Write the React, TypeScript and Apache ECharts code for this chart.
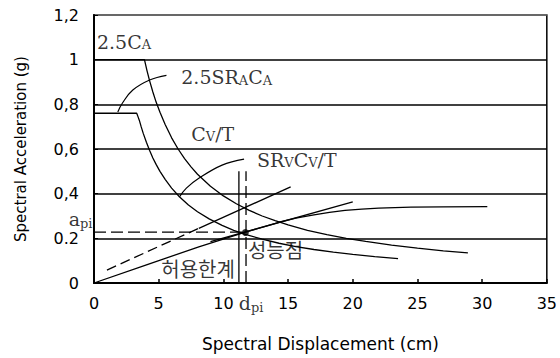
import React, { useEffect, useRef } from 'react';
import * as echarts from 'echarts';

// ---- data ----
const xTicks = [0, 5, 10, 15, 20, 25, 30, 35];
const yTickLabels = ['0', '0.2', '0,4', '0,6', '0,8', '1', '1,2'];

// elastic demand spectrum: 2.5CA plateau then Cv/T
const elasticDemand: [number, number][] = [
  [0, 1.0], [3.9, 1.0], [4.1, 0.95], [4.3, 0.905], [4.55, 0.855], [4.8, 0.81], [5.1, 0.765], [5.5, 0.71],
  [6, 0.65], [6.5, 0.6], [7, 0.557], [7.5, 0.52], [8, 0.487], [9, 0.433], [10, 0.39], [11, 0.355],
  [12, 0.325], [13, 0.3], [14, 0.279], [15, 0.26], [16.5, 0.236], [18, 0.217], [19.5, 0.2], [21, 0.186],
  [23, 0.17], [25, 0.156], [27, 0.144], [28.9, 0.135],
];
// reduced demand spectrum: 2.5SRaCa plateau then SRvCv/T
const reducedDemand: [number, number][] = [
  [0, 0.76], [3.3, 0.76], [3.4, 0.745], [3.5, 0.729], [3.65, 0.699], [3.8, 0.671], [4.05, 0.63], [4.3, 0.593],
  [4.55, 0.56], [4.8, 0.531], [5.1, 0.5], [5.5, 0.464], [6, 0.425], [6.6, 0.386], [7.3, 0.349], [8, 0.319],
  [8.9, 0.287], [9.9, 0.258], [10.8, 0.236], [11.7, 0.218], [13, 0.196], [14.3, 0.178], [15.6, 0.163],
  [17, 0.15], [18.5, 0.138], [20, 0.128], [21.7, 0.118], [23.5, 0.109],
];
// capacity spectrum
const capacity: [number, number][] = [
  [0, 0], [4, 0.08], [8.1, 0.162], [11.7, 0.228], [14.3, 0.272], [15.6, 0.29], [17, 0.305], [18.2, 0.316],
  [19.4, 0.325], [20.7, 0.331], [22, 0.335], [24.5, 0.34], [27, 0.341], [30.4, 0.342],
];
// post-yield straight line
const postYield: [number, number][] = [[9, 0.185], [20, 0.363]];
// initial stiffness line (dashed part, then solid part)
const stiffDashed: [number, number][] = [[1.0, 0.058], [8.1, 0.245]];
const stiffSolid: [number, number][] = [[8.1, 0.245], [15.2, 0.43]];
// leader curves for labels
const leaderSRA: [number, number][] = [[1.84, 0.766], [2.2, 0.806], [3.0, 0.864], [4.3, 0.909], [5.6, 0.93]];
const leaderSRV: [number, number][] = [[6.6, 0.385], [7.14, 0.425], [8.13, 0.47], [9.9, 0.528], [11.6, 0.555]];
// performance point guides
const dpiSolid: [number, number][] = [[11.2, 0], [11.2, 0.5]];
const dpiDashed: [number, number][] = [[11.75, 0], [11.75, 0.5]];
const apiDashed: [number, number][] = [[0, 0.228], [11.75, 0.228]];
const perfPoint: [number, number][] = [[11.7, 0.226]];

// annotations: [x, y] anchor (left-middle of text) and text
const annotationTexts = ['2.5C{s|A}', '2.5SR{s|A}C{s|A}', 'C{s|V}/T', 'SR{s|V}C{s|V}/T', 'a{p|pi}', 'd{p|pi}', '허용한계', '성능점'];
const annotationAnchors: [number, number][] = [
  [0.23, 1.079], [6.75, 0.922], [7.52, 0.667], [12.6, 0.551], [-1.95, 0.285], [11.2, -0.09], [5.2, 0.063], [11.9, 0.152],
];

export default function App() {
  const ref = useRef<HTMLDivElement>(null);
  useEffect(() => {
    const chart = echarts.init(ref.current!, null, { renderer: 'svg' });
    const serif = 'DejaVu Serif';
    const sans = 'DejaVu Sans';
    const kr = 'Noto Sans CJK KR';
    const mk = (data: [number, number][], width = 1.3, type: any = 'solid', smooth: any = false) => ({
      type: 'line',
      data,
      symbol: 'none',
      silent: true,
      smooth,
      lineStyle: { color: '#000', width, type },
      z: 3,
    });
    const rich = {
      s: { fontSize: 13, fontFamily: serif, color: '#000', padding: [6, 0, 0, 0] },
      p: { fontSize: 13, fontFamily: serif, color: '#000', padding: [8, 0, 0, 0] },
    };
    const annData = annotationAnchors.map((a, i) => {
      const isKr = i >= 6;
      return {
        value: a,
        label: {
          show: true,
          formatter: annotationTexts[i],
          position: [0, 0],
          align: 'left',
          verticalAlign: 'middle',
          color: '#000',
          fontFamily: isKr ? kr : serif,
          fontSize: isKr ? 20 : 19,
          rich,
        },
      };
    });
    chart.setOption({
      animation: false,
      grid: { left: 94, right: 10, top: 15, bottom: 75, show: true, borderColor: '#000', borderWidth: 1.5, backgroundColor: 'transparent' },
      xAxis: {
        type: 'value',
        min: 0,
        max: 35,
        interval: 5,
        name: 'Spectral Displacement (cm)',
        nameLocation: 'middle',
        nameGap: 52,
        nameTextStyle: { fontFamily: sans, fontSize: 17, color: '#000' },
        axisLine: { show: true, lineStyle: { color: '#000', width: 2 } },
        axisTick: { show: true, inside: true, length: 4, lineStyle: { color: '#000', width: 1.5 } },
        axisLabel: {
          margin: 12,
          fontFamily: sans,
          fontSize: 16,
          color: '#000',
          formatter: (v: number) => (xTicks.includes(v) ? String(v) : ''),
        },
        splitLine: { show: false },
      },
      yAxis: {
        type: 'value',
        min: 0,
        max: 1.2,
        interval: 0.2,
        name: 'Spectral Acceleration (g)',
        nameLocation: 'middle',
        nameGap: 66,
        nameTextStyle: { fontFamily: sans, fontSize: 15, color: '#000' },
        axisLine: { show: true, lineStyle: { color: '#000', width: 2 } },
        axisTick: { show: true, inside: true, length: 4, lineStyle: { color: '#000' } },
        axisLabel: {
          margin: 15,
          fontFamily: sans,
          fontSize: 16,
          color: '#000',
          formatter: (_v: number, idx: number) => yTickLabels[idx] ?? '',
        },
        splitLine: { show: true, lineStyle: { color: ['#000', '#000', '#000', '#000', '#000', '#000', '#777'], width: 1.5 } },
      },
      series: [
        mk(elasticDemand, 1.3),
        mk(reducedDemand, 1.3),
        mk(capacity, 1.3),
        mk(postYield, 1.3),
        mk(stiffDashed, 1.3, [10, 5]),
        mk(stiffSolid, 1.3),
        mk(leaderSRA, 1.2, 'solid', 0.4),
        mk(leaderSRV, 1.2, 'solid', 0.4),
        mk(dpiSolid, 1.3),
        mk(dpiDashed, 1.3, [12, 5]),
        mk(apiDashed, 1.3, [12, 5]),
        {
          type: 'scatter',
          data: perfPoint,
          symbol: 'circle',
          symbolSize: 7,
          itemStyle: { color: '#000' },
          silent: true,
          z: 5,
        },
        {
          type: 'scatter',
          data: annData,
          symbolSize: 0.1,
          itemStyle: { color: 'transparent' },
          clip: false,
          silent: true,
          z: 6,
        },
      ],
    });
    return () => chart.dispose();
  }, []);
  return <div ref={ref} style={{ position: 'absolute', left: 0, top: 0, width: 560, height: 358 }} />;
}
